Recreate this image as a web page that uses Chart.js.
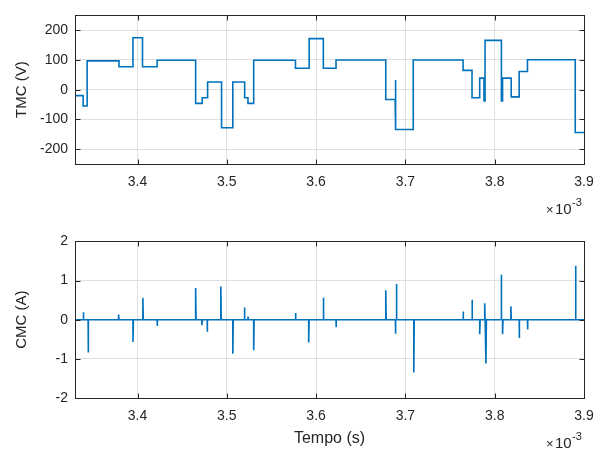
<!DOCTYPE html>
<html>
<head>
<meta charset="utf-8">
<script src="https://cdn.jsdelivr.net/npm/chart.js@4.4.1/dist/chart.umd.min.js"></script>
<style>
  body { margin: 0; background: #fff; }
  #wrap { position: relative; width: 606px; height: 453px; }
  canvas { position: absolute; left: 0; }
  #tmc { top: 0; }
  #cmc { top: 226px; }
</style>
</head>
<body>
<div id="wrap">
  <canvas id="tmc" width="606" height="226"></canvas>
  <canvas id="cmc" width="606" height="227"></canvas>
</div>
<script>
// time axis, in units of 1e-3 s
const xTicks = [3.4, 3.5, 3.6, 3.7, 3.8, 3.9];
const xMin = 3.33, xMax = 3.9;

const tmcTicks = [-200, -100, 0, 100, 200];
const cmcTicks = [-2, -1, 0, 1, 2];

// TMC: instant of every level change and the level held after it
const tmcTimes = [3.33, 3.3391, 3.3436, 3.3793, 3.3949, 3.4056, 3.422, 3.4651, 3.4725, 3.4785,
  3.4941, 3.5067, 3.52, 3.5237, 3.5301, 3.5769, 3.5922, 3.6081, 3.6223, 3.678,
  3.6885, 3.6893, 3.7088, 3.7646, 3.7746, 3.7832, 3.788, 3.7892, 3.8075, 3.8088,
  3.8185, 3.8274, 3.8367, 3.8902];
const tmcLevels = [-20, -55, 97, 77, 175, 77, 99, -46, -27, 26,
  -128, 26, -27, -46, 99, 72, 172, 72, 100, -33,
  33, -134, 100, 65, -27, 39, -38, 166, -38, 39,
  -24, 61, 101, -144];

// CMC: instant and peak of every current spike
const cmcTimes = [3.3393, 3.3447, 3.3788, 3.3949, 3.406, 3.422, 3.4651, 3.4721, 3.478, 3.4933,
  3.5067, 3.5197, 3.5237, 3.5301, 3.5769, 3.5917, 3.6081, 3.6223, 3.678, 3.6888,
  3.6899, 3.7094, 3.7646, 3.7746, 3.7832, 3.7888, 3.7902, 3.8073, 3.8088, 3.8181,
  3.8274, 3.8367, 3.8905];
const cmcPeaks = [0.19, -0.84, 0.13, -0.57, 0.56, -0.16, 0.81, -0.14, -0.31, 0.85,
  -0.87, 0.31, 0.08, -0.78, 0.17, -0.58, 0.56, -0.19, 0.75, -0.36,
  0.91, -1.35, 0.21, 0.51, -0.37, 0.42, -1.12, 1.15, -0.37, 0.34,
  -0.47, -0.25, 1.38];

const blue = '#0072BD';
const ink = '#262626';
const fontFamily = "'Liberation Sans', Arial, sans-serif";

function tmcPoints() {
  const pts = [];
  tmcTimes.forEach((t, i) => {
    const end = i + 1 < tmcTimes.length ? tmcTimes[i + 1] : xMax;
    pts.push({ x: t, y: tmcLevels[i] }, { x: end, y: tmcLevels[i] });
  });
  return pts;
}

function cmcPoints() {
  const pts = [{ x: xMin, y: 0 }];
  cmcTimes.forEach((t, i) => {
    pts.push({ x: t, y: 0 }, { x: t, y: cmcPeaks[i] }, { x: t + 0.0005, y: 0 });
  });
  pts.push({ x: xMax, y: 0 });
  return pts;
}

// box, inward tick marks, axis labels and the x10^-3 exponent
const frame = {
  id: 'frame',
  afterDraw(chart, args, opts) {
    const { ctx, chartArea: a, scales } = chart;
    const L = Math.round(a.left) + 0.5, R = Math.round(a.right) + 0.5;
    const T = Math.round(a.top) + 0.5, B = Math.round(a.bottom) + 0.5;
    ctx.save();
    ctx.strokeStyle = ink;
    ctx.lineWidth = 1;
    ctx.strokeRect(L, T, R - L, B - T);
    ctx.beginPath();
    scales.x.ticks.forEach(tk => {
      const px = Math.round(scales.x.getPixelForValue(tk.value)) + 0.5;
      ctx.moveTo(px, B); ctx.lineTo(px, B - 5);
      ctx.moveTo(px, T); ctx.lineTo(px, T + 5);
    });
    scales.y.ticks.forEach(tk => {
      const py = Math.round(scales.y.getPixelForValue(tk.value)) + 0.5;
      ctx.moveTo(L, py); ctx.lineTo(L + 5, py);
      ctx.moveTo(R, py); ctx.lineTo(R - 5, py);
    });
    ctx.stroke();

    ctx.fillStyle = ink;
    ctx.textAlign = 'center';
    ctx.textBaseline = 'middle';
    ctx.font = '15px ' + fontFamily;
    ctx.save();
    ctx.translate(opts.yLabelX, (a.top + a.bottom) / 2);
    ctx.rotate(-Math.PI / 2);
    ctx.fillText(opts.yLabel, 0, 0);
    ctx.restore();

    if (opts.xLabel) {
      ctx.font = '16px ' + fontFamily;
      ctx.fillText(opts.xLabel, (a.left + a.right) / 2, opts.xLabelY);
    }

    // exponent note under the right end of the time axis
    ctx.textAlign = 'left';
    ctx.textBaseline = 'alphabetic';
    ctx.font = '13px ' + fontFamily;
    ctx.fillText('\u00d7', 546, opts.expY);
    ctx.font = '15px ' + fontFamily;
    ctx.fillText('10', 555, opts.expY);
    ctx.font = '11px ' + fontFamily;
    ctx.fillText('-3', 572, opts.expY - 8);
    ctx.restore();
  }
};

function makeChart(id, points, yMin, yMax, yTicks, frameOpts, padTop, xHeight) {
  return new Chart(document.getElementById(id), {
    type: 'line',
    data: {
      datasets: [{
        data: points,
        borderColor: blue,
        borderWidth: 1.6,
        pointRadius: 0,
        tension: 0,
        fill: false
      }]
    },
    options: {
      responsive: false,
      animation: false,
      events: [],
      layout: { padding: { top: padTop, right: 22, left: 0, bottom: 0 } },
      plugins: { legend: { display: false }, tooltip: { enabled: false }, frame: frameOpts },
      scales: {
        x: {
          type: 'linear',
          min: xMin,
          max: xMax,
          afterBuildTicks: s => { s.ticks = xTicks.map(v => ({ value: v })); },
          afterFit: s => { s.height = xHeight; },
          grid: { color: '#dfdfdf', drawTicks: false },
          border: { display: false },
          ticks: {
            color: ink,
            font: { family: fontFamily, size: 14 },
            padding: 10,
            maxRotation: 0,
            callback: v => v.toFixed(1)
          }
        },
        y: {
          min: yMin,
          max: yMax,
          afterBuildTicks: s => { s.ticks = yTicks.map(v => ({ value: v })); },
          afterFit: s => { s.width = 75; },
          grid: { color: '#dfdfdf', drawTicks: false },
          border: { display: false },
          ticks: {
            color: ink,
            font: { family: fontFamily, size: 14 },
            padding: 7,
            callback: v => String(v)
          }
        }
      }
    },
    plugins: [frame]
  });
}

makeChart('tmc', tmcPoints(), -250, 250, tmcTicks,
  { yLabel: 'TMC (V)', yLabelX: 22, expY: 214 }, 6, 62);
makeChart('cmc', cmcPoints(), -2, 2, cmcTicks,
  { yLabel: 'CMC (A)', yLabelX: 22, xLabel: 'Tempo (s)', xLabelY: 213, expY: 222 }, 15, 55);
</script>
</body>
</html>
